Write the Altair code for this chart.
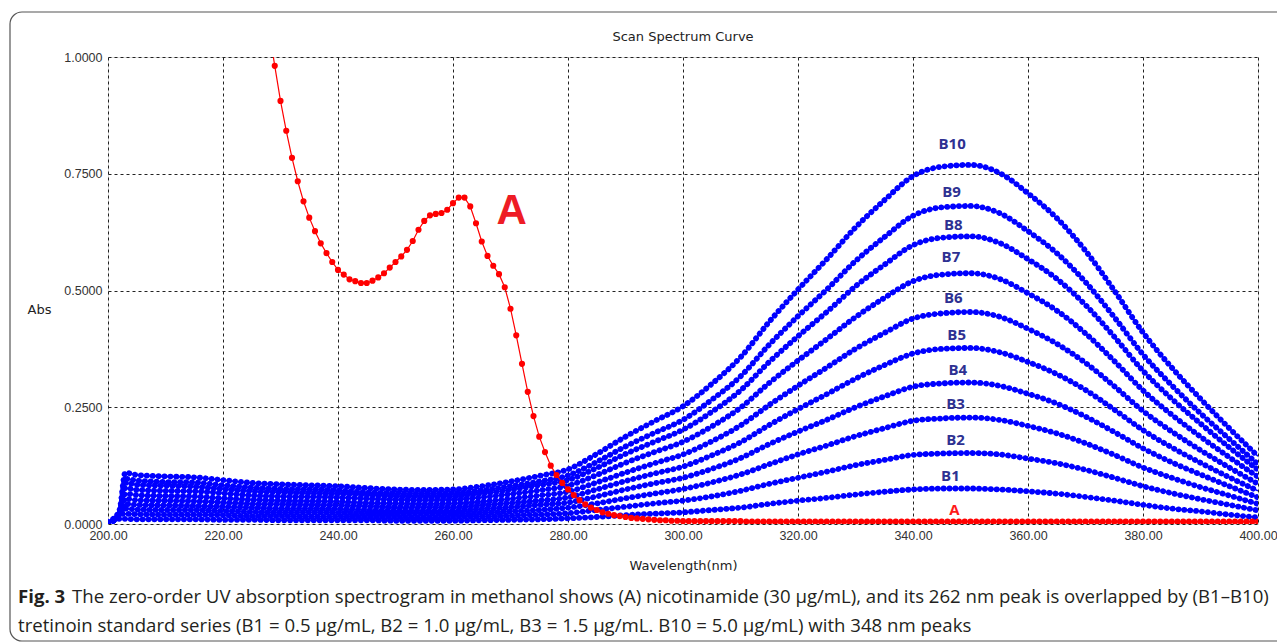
import altair as alt
import pandas as pd

# ---------------- data (absorbance in milli-Abs) ----------------
b_wavelength = [200, 201, 202, 203, 205, 210, 215, 220, 225, 230, 235, 240, 245, 250, 255,
                260, 265, 270, 275, 280, 285, 290, 295, 300, 305, 310, 315, 320, 325, 330,
                335, 340, 345, 350, 355, 360, 365, 370, 375, 380, 385, 390, 395, 400]

B10 = [5, 12, 30, 110, 105, 102, 100, 94, 88, 85, 83, 81, 77, 74, 73, 74, 81, 91, 103, 117,
       150, 187, 220, 252, 300, 357, 433, 502, 567, 635, 693, 745, 765, 769, 752, 708, 655,
       585, 500, 410, 335, 268, 205, 145]
B9 = [2, 8, 20, 97, 93, 90, 89, 83, 78, 75, 74, 72, 68, 66, 65, 66, 72, 81, 91, 104, 133, 166,
      195, 223, 266, 316, 384, 445, 502, 563, 614, 660, 678, 681, 666, 627, 580, 518, 443, 363,
      297, 237, 182, 128]
B8 = [2, 8, 20, 88, 84, 82, 80, 75, 70, 68, 66, 65, 62, 59, 58, 59, 65, 73, 83, 94, 120, 150,
      176, 202, 240, 286, 347, 402, 454, 509, 555, 597, 613, 616, 602, 567, 525, 469, 401, 328,
      268, 215, 164, 116]
B7 = [2, 8, 20, 77, 73, 71, 70, 66, 61, 59, 58, 57, 54, 52, 51, 52, 57, 64, 72, 82, 105, 131,
      154, 176, 209, 249, 302, 350, 396, 443, 484, 520, 534, 537, 525, 494, 457, 408, 349, 286,
      234, 187, 143, 101]
B6 = [2, 8, 20, 65, 62, 60, 59, 55, 52, 50, 49, 48, 45, 44, 43, 44, 48, 54, 61, 69, 89, 110,
      130, 149, 177, 211, 255, 296, 335, 375, 409, 440, 451, 454, 444, 418, 386, 345, 295, 242,
      198, 158, 121, 86]
B5 = [2, 8, 20, 54, 51, 50, 49, 46, 43, 42, 41, 40, 38, 36, 36, 36, 40, 45, 50, 57, 74, 92,
      108, 123, 147, 175, 212, 246, 278, 311, 340, 365, 375, 377, 368, 347, 321, 287, 245, 201,
      164, 131, 100, 71]
B4 = [2, 8, 20, 43, 41, 40, 39, 37, 35, 33, 33, 32, 30, 29, 29, 29, 32, 36, 41, 46, 59, 74,
      87, 99, 118, 141, 171, 198, 223, 250, 273, 294, 301, 303, 296, 279, 258, 230, 197, 162,
      132, 106, 81, 57]
B3 = [2, 8, 20, 33, 31, 30, 30, 28, 26, 25, 25, 24, 23, 22, 22, 22, 24, 27, 30, 35, 44, 55,
      65, 75, 89, 106, 128, 149, 168, 188, 205, 221, 226, 228, 223, 210, 194, 173, 148, 121,
      99, 79, 61, 43]
B2 = [2, 8, 20, 22, 21, 20, 20, 19, 17, 17, 16, 16, 15, 15, 14, 15, 16, 18, 20, 23, 30, 37,
      44, 50, 59, 71, 86, 99, 112, 126, 137, 148, 151, 152, 149, 140, 130, 116, 99, 81, 66,
      53, 41, 29]
B1 = [2, 8, 11, 11, 10, 10, 10, 9, 9, 8, 8, 8, 8, 7, 7, 7, 8, 9, 10, 12, 15, 19, 22, 25, 30,
      35, 43, 50, 56, 63, 69, 74, 76, 76, 74, 70, 65, 58, 50, 41, 33, 27, 20, 14]

a_wavelength = list(range(228, 401))
A_values = [
    1060, 981, 906, 842, 784, 734, 691, 656, 627, 601, 580, 561, 544,
    534, 524, 520, 516, 516, 521, 528, 537, 549, 561,
    573, 587, 606, 630, 649, 661, 664, 666, 673, 687,
    699, 699, 680, 644, 605, 574, 553, 535, 507, 461,
    404, 343, 283, 231, 187, 154, 125, 105, 88, 74,
    62, 51, 42, 35, 30, 25, 22, 19, 17, 15,
    13, 12, 11, 10, 9, 8, 8, 7, 7, 6,
    6, 6, 6, 6, 6, 6, 6, 6, 6, 6,
    5, 5, 5, 5, 5, 5, 5, 5, 5, 5,
    5, 5, 5, 5, 5, 5, 5, 5, 5, 5,
    5, 5, 5, 5, 5, 5, 5, 5, 5, 5,
    5, 5, 5, 5, 5, 5, 5, 5, 5, 5,
    5, 5, 5, 5, 5, 5, 5, 5, 5, 5,
    5, 5, 5, 5, 5, 5, 5, 5, 5, 5,
    5, 5, 5, 5, 5, 5, 5, 5, 5, 5,
    5, 5, 5, 5, 5, 5, 5, 5, 5, 5,
    5, 5, 5, 5, 5, 5, 5, 5, 5, 5,
]

label_text = ["B10", "B9", "B8", "B7", "B6", "B5", "B4", "B3", "B2", "B1", "A"]
label_wl = [346.8, 346.7, 347.0, 346.6, 347.0, 347.6, 347.8, 347.4, 347.4, 346.5, 347.2]
label_abs = [0.814, 0.710, 0.641, 0.572, 0.484, 0.405, 0.330, 0.257, 0.179, 0.102, 0.031]
label_kind = ["B", "B", "B", "B", "B", "B", "B", "B", "B", "B", "A"]

big_label = ["A"]
big_label_wl = [270.2]
big_label_abs = [0.671]

x_ticks = [200, 220, 240, 260, 280, 300, 320, 340, 360, 380, 400]
y_ticks = [0.0, 0.25, 0.5, 0.75, 1.0]

chart_title = "Scan Spectrum Curve"
caption_bold = "Fig. 3"
caption_1 = ("The zero-order UV absorption spectrogram in methanol shows (A) nicotinamide "
             "(30 μg/mL), and its 262 nm peak is overlapped by (B1–B10)")
caption_2 = ("tretinoin standard series (B1 = 0.5 μg/mL, B2 = 1.0 μg/mL, B3 = 1.5 μg/mL. "
             "B10 = 5.0 μg/mL) with 348 nm peaks")

# ---------------- tables ----------------
b_series = {"B1": B1, "B2": B2, "B3": B3, "B4": B4, "B5": B5,
            "B6": B6, "B7": B7, "B8": B8, "B9": B9, "B10": B10}
rows = []
for name, vals in b_series.items():
    for w, v in zip(b_wavelength, vals):
        rows.append({"series": name, "wl": w, "abs": v / 1000.0})
b_df = pd.DataFrame(rows)
a_df = pd.DataFrame({"wl": a_wavelength, "abs": [v / 1000.0 for v in A_values]})
lab_df = pd.DataFrame({"text": label_text, "wl": label_wl, "abs": label_abs, "kind": label_kind})
big_df = pd.DataFrame({"text": big_label, "wl": big_label_wl, "abs": big_label_abs})
one = pd.DataFrame({"k": [0]})

AX_FONT = "Liberation Sans"
TT_FONT = "DejaVu Sans"

x_scale = alt.Scale(domain=[200, 400], nice=False, zero=False)
y_scale = alt.Scale(domain=[0, 1], nice=False, zero=False)

x_axis = alt.Axis(values=x_ticks, format=".2f", title="Wavelength(nm)", grid=True,
                  gridDash=[3, 3], gridColor="#222", gridWidth=1, ticks=False, tickSize=0,
                  domain=False, labelFont=AX_FONT, labelFontSize=12.5, labelColor="#333",
                  labelPadding=5, labelFlush=False, titleFont=TT_FONT, titleFontSize=13,
                  titleFontWeight="normal", titleColor="#222", titlePadding=18)
y_axis = alt.Axis(values=y_ticks, format=".4f", title="Abs", grid=True,
                  gridDash=[3, 3], gridColor="#222", gridWidth=1, ticks=False, tickSize=0,
                  domain=False, labelFont=AX_FONT, labelFontSize=12.5, labelColor="#333",
                  labelPadding=6, labelFlush=False, titleFont=TT_FONT, titleFontSize=13,
                  titleFontWeight="normal", titleColor="#222", titleAngle=0, titleX=-69,
                  titleY=252, titleAlign="center", titleBaseline="middle")

X = alt.X("wl:Q", scale=x_scale, axis=x_axis)
Y = alt.Y("abs:Q", scale=y_scale, axis=y_axis)

frame = alt.Chart(one).mark_rect(fill="transparent", stroke="#555", strokeWidth=1.2,
                                 cornerRadius=12).encode(
    x=alt.value(-98), x2=alt.value(1200), y=alt.value(-45), y2=alt.value(584))

title_txt = alt.Chart(one).mark_text(text=chart_title, font=TT_FONT, fontSize=13,
                                     color="#222", align="center", baseline="middle").encode(
    x=alt.value(575), y=alt.value(-20))

b_thin = alt.Chart(b_df).mark_line(strokeWidth=1.6, interpolate="monotone", color="#0000ff",
                                   clip=True).encode(x=X, y=Y, detail="series:N")
b_beads = alt.Chart(b_df).mark_line(strokeWidth=5.8, interpolate="monotone", color="#0000ff",
                                    strokeDash=[0.1, 5.8], strokeCap="round",
                                    clip=True).encode(x=X, y=Y, detail="series:N")

a_line = alt.Chart(a_df).mark_line(strokeWidth=1.2, color="#ff0000", clip=True).encode(x=X, y=Y)
a_pts = alt.Chart(a_df).mark_point(filled=True, size=38, color="#ff0000", opacity=1,
                                   clip=True).encode(x=X, y=Y)

labels = alt.Chart(lab_df).mark_text(font="Open Sans", fontSize=15, fontWeight="bold",
                                     align="center", baseline="middle").encode(
    x=X, y=Y, text="text:N",
    color=alt.Color("kind:N", scale=alt.Scale(domain=["A", "B"], range=["#ff1a1a", "#2e3192"]),
                    legend=None))

big = alt.Chart(big_df).mark_text(font="Liberation Sans", fontSize=42, fontWeight="bold",
                                  color="#ee1c25", align="center", baseline="middle").encode(
    x=X, y=Y, text="text:N")

cap_font = "Open Sans"
cap_size = 18.6
cap_b = alt.Chart(one).mark_text(text=caption_bold, font=cap_font, fontSize=cap_size,
                                 fontWeight="bold", color="#231f20", align="left",
                                 baseline="middle").encode(x=alt.value(-90), y=alt.value(540))
cap_1 = alt.Chart(one).mark_text(text=caption_1, font=cap_font, fontSize=cap_size,
                                 color="#231f20", align="left", baseline="middle").encode(
    x=alt.value(-36), y=alt.value(540))
cap_2 = alt.Chart(one).mark_text(text=caption_2, font=cap_font, fontSize=cap_size,
                                 color="#231f20", align="left", baseline="middle").encode(
    x=alt.value(-90), y=alt.value(569))

chart = alt.layer(
    frame, title_txt, b_thin, b_beads, a_line, a_pts, labels, big, cap_b, cap_1, cap_2
).properties(
    width=1150, height=467,
    autosize=alt.AutoSizeParams(type="none"),
    padding={"left": 100, "top": 49, "right": 19, "bottom": 118},
).configure_view(stroke="#333", strokeWidth=1).configure(background="white")

chart.save("out.html", embed_options={"renderer": "svg", "actions": False})
